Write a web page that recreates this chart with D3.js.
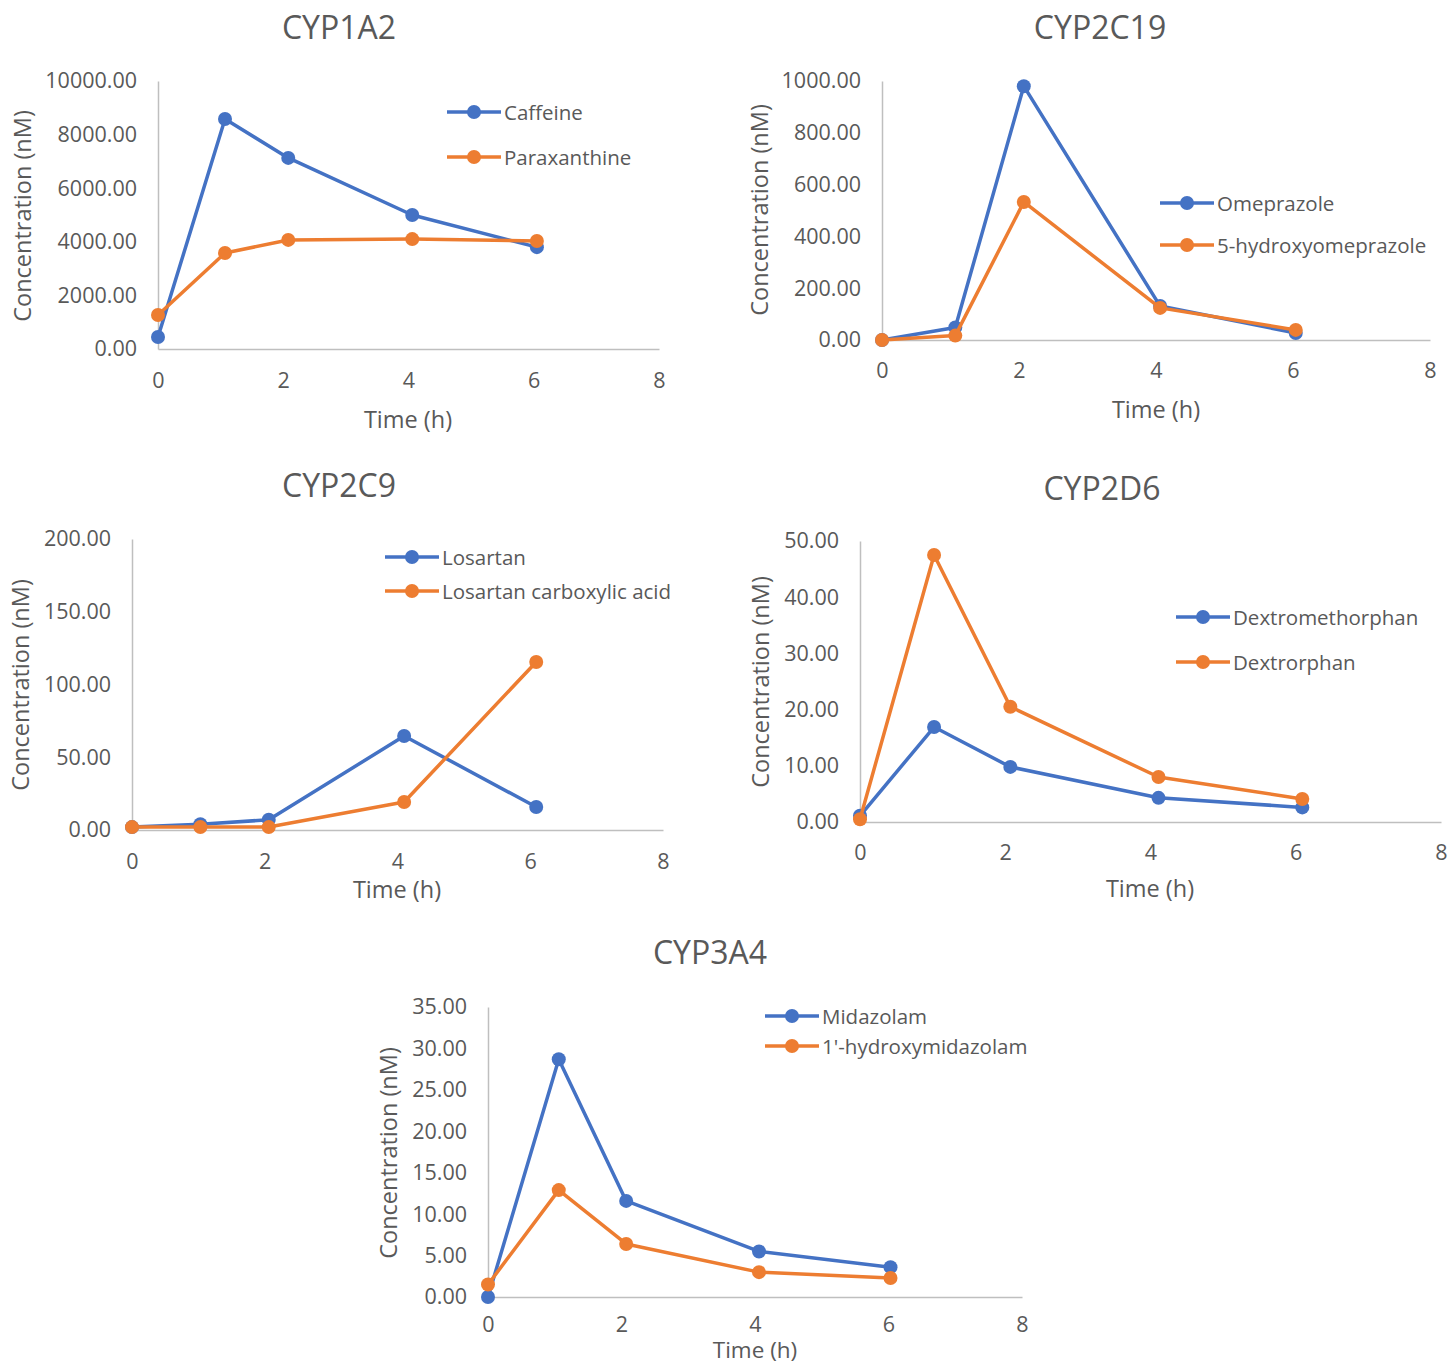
<!DOCTYPE html>
<html>
<head>
<meta charset="utf-8">
<script src="https://cdn.jsdelivr.net/npm/d3@7"></script>
<style>
  body { margin: 0; background: #fff; }
  svg { display: block; font-family: "Open Sans", "Noto Sans", sans-serif; }
</style>
</head>
<body>
<svg id="chart" width="1451" height="1364"></svg>
<script>
// Sampling times (h) and concentrations (nM) for each probe substrate and metabolite
const timeCYP1A2 = [0, 1.07, 2.08, 4.06, 6.05];
const caffeine = [450, 8580, 7130, 5000, 3800];
const paraxanthine = [1270, 3580, 4070, 4100, 4030];

const timeCYP2C19 = [0, 1.07, 2.07, 4.06, 6.04];
const omeprazole = [0, 48, 980, 131, 27];
const hydroxyomeprazole = [0, 17, 533, 124, 39];

const timeCYP2C9 = [0, 1.03, 2.06, 4.1, 6.09];
const losartan = [2, 4, 7, 64.6, 15.8];
const losartanAcid = [2, 2, 2, 19.2, 115.5];

const timeCYP2D6 = [0, 1.02, 2.07, 4.11, 6.09];
const dextromethorphan = [1.1, 16.9, 9.8, 4.3, 2.6];
const dextrorphan = [0.5, 47.5, 20.5, 8.0, 4.1];

const timeCYP3A4 = [0, 1.06, 2.07, 4.06, 6.03];
const midazolam = [0, 28.7, 11.6, 5.5, 3.6];
const hydroxymidazolam = [1.5, 12.9, 6.4, 3.0, 2.3];

// Axis ticks
const xTicks = [0, 2, 4, 6, 8];
const yTicksCYP1A2 = [0, 2000, 4000, 6000, 8000, 10000];
const yTicksCYP2C19 = [0, 200, 400, 600, 800, 1000];
const yTicksCYP2C9 = [0, 50, 100, 150, 200];
const yTicksCYP2D6 = [0, 10, 20, 30, 40, 50];
const yTicksCYP3A4 = [0, 5, 10, 15, 20, 25, 30, 35];

const BLUE = "#4472C4";
const ORANGE = "#ED7D31";
const TEXT = "#595959";
const AXIS = "#BFBFBF";

const panels = [
  { title: "CYP1A2", time: timeCYP1A2, ticks: yTicksCYP1A2,
    series: [["Caffeine", caffeine, BLUE], ["Paraxanthine", paraxanthine, ORANGE]],
    x0: 158, x1: 659, yTop: 81, yBot: 349, titleX: 339, titleY: 26, xPad: 24,
    xTitleX: 408, xTitleY: 419, xTitleFs: 23.5, yTitleX: 22, yTitleY: 216,
    legX: 447, legY: [112, 157] },
  { title: "CYP2C19", time: timeCYP2C19, ticks: yTicksCYP2C19,
    series: [["Omeprazole", omeprazole, BLUE], ["5-hydroxyomeprazole", hydroxyomeprazole, ORANGE]],
    x0: 882, x1: 1430, yTop: 81, yBot: 340, titleX: 1100, titleY: 26, xPad: 23,
    xTitleX: 1156, xTitleY: 409, xTitleFs: 23.5, yTitleX: 759, yTitleY: 210,
    legX: 1160, legY: [203, 245] },
  { title: "CYP2C9", time: timeCYP2C9, ticks: yTicksCYP2C9,
    series: [["Losartan", losartan, BLUE], ["Losartan carboxylic acid", losartanAcid, ORANGE]],
    x0: 132, x1: 663, yTop: 539, yBot: 830, titleX: 339, titleY: 484, xPad: 24,
    xTitleX: 397, xTitleY: 889, xTitleFs: 23.5, yTitleX: 20, yTitleY: 685,
    legX: 385, legY: [557, 591] },
  { title: "CYP2D6", time: timeCYP2D6, ticks: yTicksCYP2D6,
    series: [["Dextromethorphan", dextromethorphan, BLUE], ["Dextrorphan", dextrorphan, ORANGE]],
    x0: 860, x1: 1441, yTop: 541, yBot: 822, titleX: 1102, titleY: 487, xPad: 23,
    xTitleX: 1150, xTitleY: 888, xTitleFs: 23.5, yTitleX: 760, yTitleY: 682,
    legX: 1176, legY: [617, 662] },
  { title: "CYP3A4", time: timeCYP3A4, ticks: yTicksCYP3A4,
    series: [["Midazolam", midazolam, BLUE], ["1'-hydroxymidazolam", hydroxymidazolam, ORANGE]],
    x0: 488, x1: 1022, yTop: 1007, yBot: 1297, titleX: 710, titleY: 951, xPad: 20,
    xTitleX: 755, xTitleY: 1349, xTitleFs: 22.5, yTitleX: 388, yTitleY: 1153,
    legX: 765, legY: [1016, 1046] }
];

const svg = d3.select("#chart");
const fmt = d3.format(".2f");
const TICK_FS = 21.5, LEG_FS = 20.5, AXT_FS = 23.5, TITLE_FS = 32;

panels.forEach(p => {
  const g = svg.append("g");
  const x = d3.scaleLinear().domain([0, 8]).range([p.x0, p.x1]);
  const y = d3.scaleLinear().domain([0, d3.max(p.ticks)]).range([p.yBot, p.yTop]);

  // Title
  g.append("text").attr("x", p.titleX).attr("y", p.titleY)
    .attr("text-anchor", "middle").attr("dominant-baseline", "central")
    .attr("font-size", TITLE_FS).attr("fill", TEXT).text(p.title);

  // Y axis (labels only, grey spine)
  const yAxis = d3.axisLeft(y).tickValues(p.ticks).tickFormat(fmt).tickSize(0).tickPadding(21);
  const ya = g.append("g").attr("transform", `translate(${p.x0},0)`).call(yAxis);
  ya.select(".domain").attr("stroke", AXIS).attr("stroke-width", 1.5);
  ya.selectAll("text").attr("font-size", TICK_FS).attr("fill", TEXT)
    .attr("font-family", "\"Open Sans\", sans-serif");

  // X axis
  const xAxis = d3.axisBottom(x).tickValues(xTicks).tickFormat(d3.format("d")).tickSize(0).tickPadding(p.xPad);
  const xa = g.append("g").attr("transform", `translate(0,${p.yBot})`).call(xAxis);
  xa.select(".domain").attr("stroke", AXIS).attr("stroke-width", 1.5);
  xa.selectAll("text").attr("font-size", TICK_FS).attr("fill", TEXT)
    .attr("font-family", "\"Open Sans\", sans-serif");

  // Axis titles
  g.append("text").attr("x", p.xTitleX).attr("y", p.xTitleY)
    .attr("text-anchor", "middle").attr("dominant-baseline", "central")
    .attr("font-size", p.xTitleFs).attr("fill", TEXT).text("Time (h)");
  g.append("text")
    .attr("transform", `translate(${p.yTitleX},${p.yTitleY}) rotate(-90)`)
    .attr("text-anchor", "middle").attr("dominant-baseline", "central")
    .attr("font-size", AXT_FS).attr("fill", TEXT).text("Concentration (nM)");

  // Series: line then markers, in order
  const line = d3.line().x((d, i) => x(p.time[i])).y(d => y(d));
  p.series.forEach(([name, vals, color], si) => {
    g.append("path").datum(vals).attr("d", line)
      .attr("fill", "none").attr("stroke", color).attr("stroke-width", 3.5)
      .attr("stroke-linejoin", "round");
    g.selectAll(null).data(vals).enter().append("circle")
      .attr("cx", (d, i) => x(p.time[i])).attr("cy", d => y(d))
      .attr("r", 7).attr("fill", color);

    // Legend entry
    const ly = p.legY[si];
    g.append("line").attr("x1", p.legX).attr("x2", p.legX + 54)
      .attr("y1", ly).attr("y2", ly).attr("stroke", color).attr("stroke-width", 3.5);
    g.append("circle").attr("cx", p.legX + 27).attr("cy", ly).attr("r", 7).attr("fill", color);
    g.append("text").attr("x", p.legX + 57).attr("y", ly)
      .attr("dominant-baseline", "central").attr("font-size", LEG_FS)
      .attr("fill", TEXT).text(name);
  });
});
</script>
</body>
</html>
